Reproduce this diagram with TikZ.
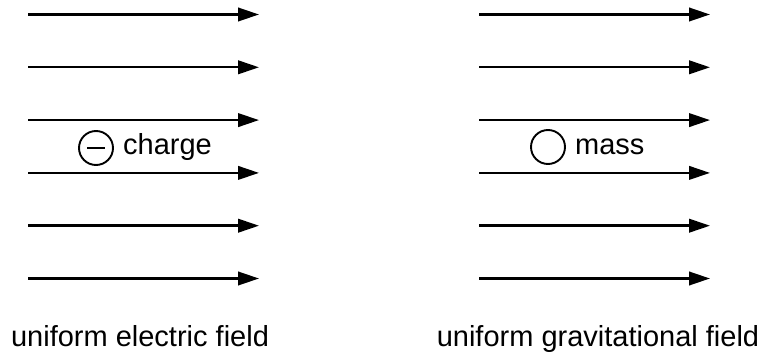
\documentclass[tikz,border=0pt]{standalone}
\usepackage{fontspec}
\setmainfont{Liberation Sans}
\usetikzlibrary{arrows.meta}
\begin{document}
\begin{tikzpicture}[x=1pt,y=-1pt,font=\fontsize{29}{34}\selectfont,
    fieldline/.style={line width=2.4pt,-{Triangle[length=21pt,width=13.5pt]}},
    body/.style={draw,circle,line width=1.9pt,minimum size=34pt,inner sep=0pt}]
    \useasboundingbox (0,0) rectangle (764,358);
    % field lines
    \foreach \i in {0,...,5} {
      \coordinate (ea\i) at (28,14.5+52.8*\i);
      \coordinate (eb\i) at (259,14.5+52.8*\i);
      \coordinate (ga\i) at (479,14.5+52.8*\i);
      \coordinate (gb\i) at (710,14.5+52.8*\i);
      \draw[fieldline] (ea\i) -- (eb\i);
      \draw[fieldline] (ga\i) -- (gb\i);
    }
    % charge and mass
    \node[body] (charge) at (96,148) {};
    \draw[line width=1.9pt] ([xshift=-9pt]charge.center) -- ([xshift=9pt]charge.center);
    \node[anchor=base west,inner sep=0pt] (chargetext) at (123,155) {charge};
    \node[body] (mass) at (548,147) {};
    \node[anchor=base west,inner sep=0pt] (masstext) at (575,155) {mass};
    % captions
    \node[anchor=base,inner sep=0pt] (efield) at (140,347) {uniform electric field};
    \node[anchor=base,inner sep=0pt] (gfield) at (598,347) {uniform gravitational field};
\end{tikzpicture}
\end{document}
